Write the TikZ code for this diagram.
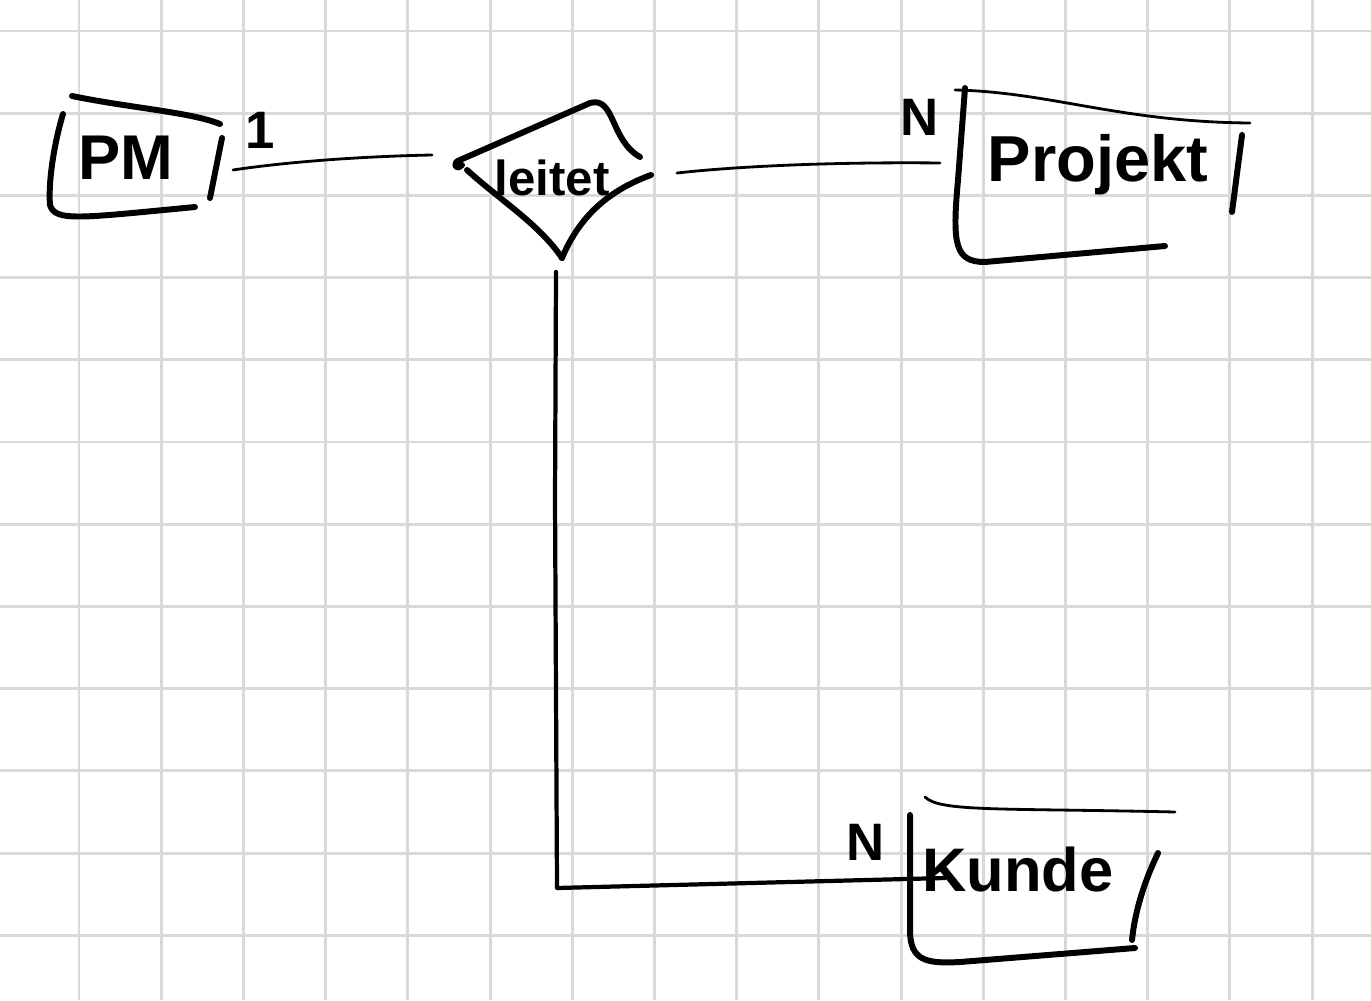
\documentclass[tikz,border=0pt]{standalone}
\usepackage{fontspec}
\setmainfont{Liberation Sans}
\begin{document}
\begin{tikzpicture}[x=0.02cm,y=-0.02cm,
  gridline/.style={line width=1.7pt,color=gridgray},
  pen/.style={line width=3.4pt,line cap=round,line join=round},
  thinpen/.style={line width=1.6pt,line cap=round,line join=round},
  label/.style={inner sep=0pt,font=\bfseries\fontsize{30}{34}\selectfont},
  entname/.style={inner sep=0pt},
]
\definecolor{gridgray}{RGB}{217,217,217}
\useasboundingbox (0,0) rectangle (1371,1000);
\fill[white] (0,0) rectangle (1371,1000);

% squared paper
\foreach \k in {-1,...,15} \draw[gridline] ({79+82.2*\k},0) -- ({79+82.2*\k},1000);
\foreach \k in {0,...,11} \draw[gridline] (0,{31+82.2*\k}) -- (1371,{31+82.2*\k});

% entity PM
\draw[pen] (63,114) .. controls (55,140) and (48,180) .. (50,205) .. controls (55,222) and (80,218) .. (195,207);
\draw[pen] (72,96) .. controls (130,108) and (190,112) .. (220,124);
\draw[pen] (222,138) -- (210,198);
\node[entname,font=\bfseries\fontsize{36}{40}\selectfont] (pm) at (126,158) {PM};

% relationship diamond
\draw[pen] (462,165) .. controls (455,172) and (452,162) .. (460,160)
  -- (590,103) .. controls (615,96) and (610,140) .. (640,157);
\draw[pen] (651,175) .. controls (610,190) and (580,215) .. (562,258);
\draw[pen] (467,170) .. controls (500,200) and (540,225) .. (562,258);
\node[entname,font=\bfseries\fontsize{28}{32}\selectfont] (rel) at (552,178) {leitet};

% entity Projekt
\draw[thinpen] (955,90) .. controls (1050,92) and (1120,122) .. (1250,123);
\draw[pen] (965,88) -- (958,180) .. controls (952,245) and (955,262) .. (985,262) -- (1165,246);
\draw[pen] (1242,135) -- (1232,212);
\node[entname,font=\bfseries\fontsize{37}{42}\selectfont] (proj) at (1098,165) {Projekt};

% entity Kunde
\draw[thinpen] (925,797) .. controls (940,812) and (1000,808) .. (1175,812);
\draw[pen] (910,815) -- (910,930) .. controls (910,960) and (925,964) .. (960,962) -- (1135,948);
\draw[pen] (1158,853) .. controls (1145,880) and (1135,910) .. (1132,940);
\node[entname,font=\bfseries\fontsize{35}{40}\selectfont] (kunde) at (1018,870) {Kunde};

% connector end points
\coordinate (pmR) at (233,170);
\coordinate (relL) at (432,155);
\coordinate (relR) at (677,173);
\coordinate (projL) at (940,163);
\coordinate (relB) at (556,272);
\coordinate (bend) at (557,888);
\coordinate (kundeL) at (945,878);

% connectors
\draw[thinpen] (pmR) .. controls (300,160) and (380,156) .. (relL);
\draw[thinpen] (relR) .. controls (750,165) and (850,162) .. (projL);
\draw[pen,line width=2.4pt] (relB) -- (555,500) -- (bend) -- (kundeL);

% cardinalities
\node[label] (c1) at (260,130) {1};
\node[label] (cn1) at (920,117) {N};
\node[label] (cn2) at (866,842) {N};
\end{tikzpicture}
\end{document}
